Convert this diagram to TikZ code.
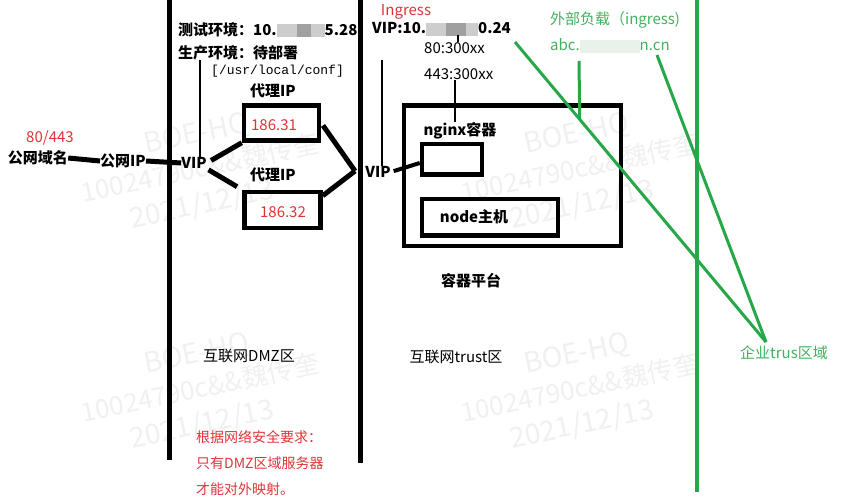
\documentclass[tikz,border=0pt]{standalone}
\usepackage{fontspec}
\setmainfont{Noto Sans CJK SC}
\newfontfamily\monof{Liberation Mono}
\usetikzlibrary{calc}
\definecolor{wred}{RGB}{222,52,56}
\definecolor{wgreen}{RGB}{38,168,72}
\definecolor{wgtext}{RGB}{64,178,92}
\definecolor{wmgray}{RGB}{240,240,240}
\definecolor{blurA}{RGB}{205,205,205}
\definecolor{blurB}{RGB}{160,160,160}
\definecolor{blurG}{RGB}{232,242,235}
\newcommand\blurrule[2]{{\color{#1}\rule[-2pt]{#2}{13pt}}}
\tikzset{
  bt/.style={font=\bfseries\fontsize{15}{18}\selectfont, inner sep=0pt},
  rt/.style={font=\fontsize{15}{18}\selectfont, inner sep=0pt},
  redt/.style={rt, text=wred},
  grt/.style={rt, text=wgtext},
  fatbox/.style={draw, line width=4.5pt, inner sep=0pt},
  conn/.style={line width=5pt},
  thinl/.style={line width=2.6pt},
  gline/.style={draw=wgreen, line width=3pt},
  wall/.style={line width=5pt},
  wm/.style={text=wmgray, rotate=12, inner sep=0pt},
  wmbig/.style={wm, font=\fontsize{28}{30}\selectfont},
  wmmid/.style={wm, font=\fontsize{26}{28}\selectfont},
}
\begin{document}
\begin{tikzpicture}[x=1pt,y=-1pt]
\useasboundingbox (0,0) rectangle (852,498);
% watermarks
\foreach \cx/\cy [count=\i] in {200/168,580/168,200/388,580/388}{
  \node[wmbig] (wma\i) at (\cx-3,\cy-33) {BOE-HQ};
  \node[wmmid] (wmb\i) at (\cx,\cy) {10024790c\&\&魏传奎};
  \node[wmbig] (wmc\i) at (\cx+2,\cy+37) {2021/12/13};
}
% zone walls
\coordinate (w1t) at (169,0); \coordinate (w1b) at (169,460);
\coordinate (w2t) at (360.5,0); \coordinate (w2b) at (360.5,463);
\coordinate (w3t) at (697,0); \coordinate (w3b) at (697,492);
\draw[wall] (w1t) -- (w1b);
\draw[line width=4.6pt] (w2t) -- (w2b);
\draw[gline, line width=3.4pt] (w3t) -- (w3b);

% left texts
\node[bt, anchor=west] (test) at (178,30) {测试环境：10.\blurrule{blurA}{20pt}\blurrule{blurB}{14pt}\blurrule{blurA}{14pt}5.28};
\node[bt, anchor=west] (prod) at (178,53) {生产环境：待部署};
\node[anchor=west, inner sep=0pt, font=\monof\fontsize{13}{15}\selectfont] (conf) at (211,71) {[/usr/local/conf]};
\node[bt] (dl1) at (273,91) {代理IP};
\node[bt] (dl2) at (273,175) {代理IP};
\node[fatbox, minimum width=75pt, minimum height=35pt] (b1) at (281.5,123) {};
\node[fatbox, minimum width=76pt, minimum height=36pt] (b2) at (282.5,210) {};
\node[redt] (ip1) at (274,125) {186.31};
\node[redt] (ip2) at (283,212) {186.32};
\node[redt] (port) at (50,138) {80/443};
\node[bt] (dom) at (38,158) {公网域名};
\node[bt] (gip) at (123,161) {公网IP};
\node[bt] (v1) at (194,163) {VIP};
\node[bt] (v2) at (378,172) {VIP};
\coordinate (j2) at (355,171);

% right black texts
\node[redt] (ing) at (406,12) {Ingress};
\node[bt, anchor=west] (vipa) at (372,29) {VIP:10.\blurrule{blurA}{20pt}\blurrule{blurB}{20pt}\blurrule{blurA}{12pt}0.24};
\node[rt, anchor=west] (p80) at (424,48) {80:300xx};
\node[rt, anchor=west] (p443) at (424,74) {443:300xx};
\node[fatbox, minimum width=217pt, minimum height=140.5pt] (plat) at (512.5,175.8) {};
\node[bt] (ngl) at (460,131) {nginx容器};
\node[fatbox, minimum width=60pt, minimum height=30.5pt] (ngb) at (452,159) {};
\node[fatbox, minimum width=136pt, minimum height=36.5pt] (nodeb) at (490,217) {};
\node[bt] (nodet) at (474,217) {node主机};
\node[bt] (platl) at (471,281) {容器平台};

% zone labels
\node[rt] (dmz) at (249,356) {互联网DMZ区};
\node[rt] (trust) at (456,357) {互联网trust区};
\node[redt, anchor=west, font=\fontsize{14}{16}\selectfont] (r1) at (196,437) {根据网络安全要求：};
\node[redt, anchor=west, font=\fontsize{14}{16}\selectfont] (r2) at (196,463) {只有DMZ区域服务器};
\node[redt, anchor=west, font=\fontsize{14}{16}\selectfont] (r3) at (196,489) {才能对外映射。};

% green texts
\node[grt, anchor=west] (ext) at (550,20) {外部负载（ingress)};
\node[grt, anchor=west] (abc) at (550,46) {abc.\blurrule{blurG}{60pt}n.cn};
\node[grt] (ent) at (784,353) {企业trus区域};
\coordinate (gj) at (766,342);
\coordinate (g1) at (515,42);
\coordinate (g2) at (657,55);
\coordinate (g3) at (579,61);

% black connectors
\draw[conn] (dom.east) -- (gip.west);
\draw[conn] (gip.east) -- (v1.west);
\draw[conn, shorten <=5pt] (v1.east) -- (b1.south west);
\draw[conn, shorten <=2pt, shorten >=6pt] (v1.south east) -- (b2.north west);
\draw[conn, shorten <=3pt] (b1.east) -- (j2);
\draw[conn] ([yshift=-6pt]b2.north east) -- (j2);
\draw[line width=4pt, shorten <=3pt] (v2.east) -- ([yshift=-4pt]ngb.west);
\coordinate (t1) at (200,60);
\draw[thinl] (t1) -- (t1 |- v1.north);
\coordinate (t2) at (382,60);
\draw[thinl] (t2) -- (t2 |- v2.north);
\coordinate (t3) at (458,35);
\draw[line width=2pt] (t3) -- (t3 |- p80.north);
\coordinate (t4) at (455,80);
\draw[thinl] (t4) -- (t4 |- ngl.north);

% green connectors
\draw[gline] (g1) -- (gj);
\draw[gline] (g2) -- (gj);
\draw[gline] (g3) -- ($(g1)!(579,120)!(gj)$);
\end{tikzpicture}
\end{document}
